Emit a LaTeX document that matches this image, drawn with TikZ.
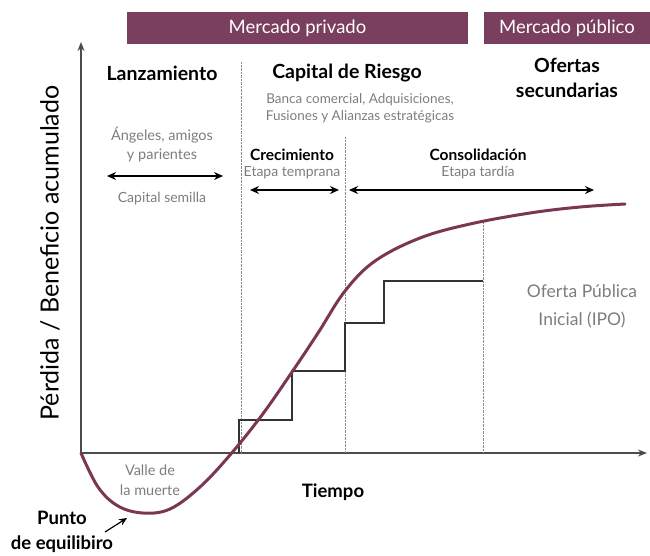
\documentclass[tikz,border=0pt]{standalone}
\usepackage{fontspec}
\setmainfont{Lato}
\usetikzlibrary{arrows.meta,calc}
\definecolor{ciruela}{RGB}{122,62,94}
\definecolor{curva}{RGB}{123,54,84}
\definecolor{grisnota}{RGB}{125,125,125}

\begin{document}
\begin{tikzpicture}[x=1pt,y=-1pt,
    banda/.style = {fill=ciruela,text=white,minimum height=32pt,inner sep=0pt,
                    font=\fontsize{18.5}{20}\selectfont},
    titulo/.style = {font=\bfseries\fontsize{19.5}{25}\selectfont,align=center},
    subtitulo/.style = {font=\bfseries\fontsize{15.5}{18}\selectfont,align=center},
    nota/.style = {text=grisnota,font=\fontsize{14}{17}\selectfont,align=center},
    flecha/.style = {draw,{Stealth[length=9pt,width=8pt]}-{Stealth[length=9pt,width=8pt]},line width=1.3pt}]
            \useasboundingbox(0,0)rectangle(650,555);
            %mercados
            \node[banda,minimum width=341pt](priv)at(297.5,28){Mercado privado};
            \node[banda,minimum width=166pt](pub)at(567,28){Mercado público};
            %ejes
            \coordinate(O)at(81,453);
            \coordinate(Y)at(81,42);
            \coordinate(X)at(647,453);
            \path[draw,-{Stealth[length=9pt,width=7pt]},line width=1.2pt,black!70](O)to(Y);
            \path[draw,-{Stealth[length=9pt,width=7pt]},line width=1.2pt,black!70](O)to(X);
            \node[rotate=90,font=\fontsize{25}{28}\selectfont](ylab)at(50,253){Pérdida / Beneficio acumulado};
            \node[titulo,font=\bfseries\fontsize{18.5}{22}\selectfont](tiempo)at(333,492){Tiempo};
            %separadores
            \coordinate(A1)at(241,62);
            \coordinate(A0)at(241,453);
            \coordinate(B1)at(345,137);
            \coordinate(B0)at(345,453);
            \coordinate(C1)at(483,222);
            \coordinate(C0)at(483,453);
            \path[draw,densely dotted,black!45](A1)to(A0);
            \path[draw,densely dotted,black!45](B1)to(B0);
            \path[draw,densely dotted,black!45](C1)to(C0);
            %etapas
            \node[titulo](lanz)at(162,73){Lanzamiento};
            \node[titulo](riesgo)at(347,73){Capital de Riesgo};
            \node[nota,font=\fontsize{13.5}{17}\selectfont](banca)at(360,108){Banca comercial, Adquisiciones,\\Fusiones y Alianzas estratégicas};
            \node[titulo](ofertas)at(567,78){Ofertas\\secundarias};
            \node[nota,font=\fontsize{14.5}{19}\selectfont](angeles)at(162,145){Ángeles, amigos\\y parientes};
            \coordinate(L1)at(107,176);
            \coordinate(L2)at(223,176);
            \path[flecha](L1)to(L2);
            \node[nota](semilla)at(162,199){Capital semilla};
            \node[subtitulo](crec)at(292,155){Crecimiento};
            \node[nota](temprana)at(292,173){Etapa temprana};
            \coordinate(M1)at(250,190);
            \coordinate(M2)at(339,190);
            \path[flecha](M1)to(M2);
            \node[subtitulo](conso)at(478,155){Consolidación};
            \node[nota](tardia)at(478,173){Etapa tardía};
            \coordinate(N1)at(349,190);
            \coordinate(N2)at(594,190);
            \path[flecha](N1)to(N2);
            %escalones
            \coordinate(S0)at(239,453);
            \coordinate(S1)at(292,420);
            \coordinate(S2)at(345,371);
            \coordinate(S3)at(384,323);
            \coordinate(S4)at(483,281);
            \path[draw,line width=1.2pt,black!80](S0)|-(S1)|-(S2)|-(S3)|-(S4);
            \node[nota,font=\fontsize{17.5}{28}\selectfont](ipo)at(582,306){Oferta Pública\\Inicial (IPO)};
            %curva
            \draw[curva,line width=3pt,line cap=round]plot[smooth,tension=0.6]coordinates{
                (81,453)(98,487)(118,506)(143,513)(170,509)(200,487)(230,455)
                (262,415)(292,372)(318,333)(345,291)(375,261)(420,238)(470,224)
                (530,213)(580,207)(625,204)};
            \node[nota,font=\fontsize{14.5}{20}\selectfont](valle)at(150,480){Valle de\\la muerte};
            \node[titulo,font=\bfseries\fontsize{18.5}{25}\selectfont](punto)at(62,532){Punto\\de equilibiro};
            \coordinate(P)at(127,518);
            \coordinate(Q)at(105,532);
            \path[draw,-{Stealth[length=8pt,width=7pt]},line width=1.2pt](Q)to(P);
        \end{tikzpicture}
\end{document}
